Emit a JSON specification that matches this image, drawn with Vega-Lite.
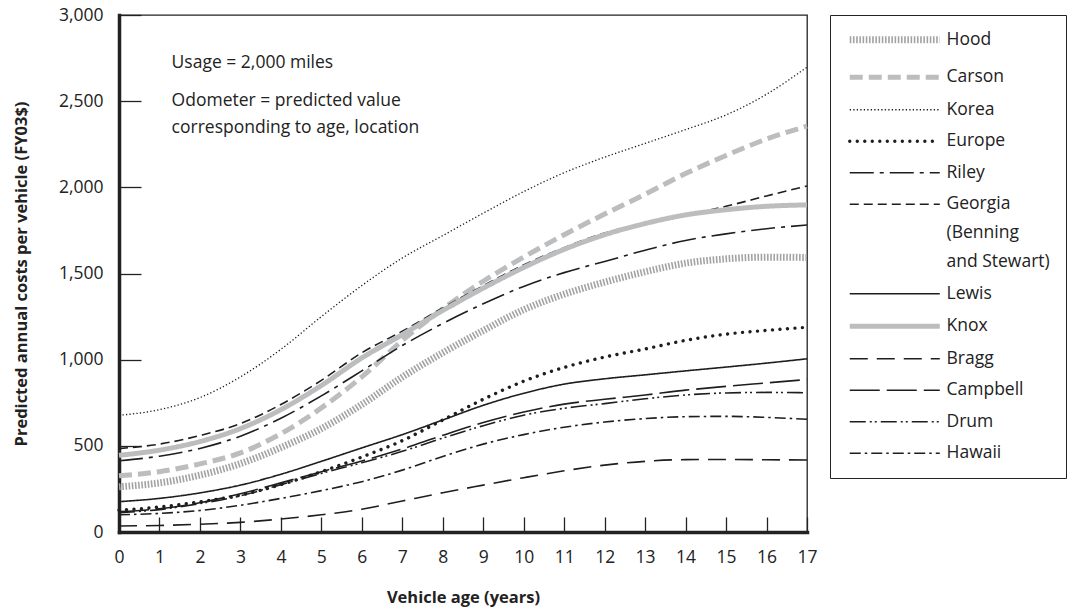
{
  "$schema": "https://vega.github.io/schema/vega-lite/v6.json",
  "width": 688,
  "height": 517,
  "autosize": "none",
  "padding": {"left": 119, "top": 15, "right": 282, "bottom": 81},
  "background": "white",
  "config": {
    "font": "Open Sans",
    "view": {"stroke": "#222", "strokeWidth": 1.3}
  },
  "data": {"values": [
    {"site":"Hood","age":0,"cost":262},{"site":"Hood","age":1,"cost":285},{"site":"Hood","age":2,"cost":330},{"site":"Hood","age":3,"cost":397},{"site":"Hood","age":4,"cost":490},{"site":"Hood","age":5,"cost":600},{"site":"Hood","age":6,"cost":740},{"site":"Hood","age":7,"cost":899},{"site":"Hood","age":8,"cost":1040},{"site":"Hood","age":9,"cost":1169},{"site":"Hood","age":10,"cost":1290},{"site":"Hood","age":11,"cost":1380},{"site":"Hood","age":12,"cost":1450},{"site":"Hood","age":13,"cost":1510},{"site":"Hood","age":14,"cost":1560},{"site":"Hood","age":15,"cost":1585},{"site":"Hood","age":16,"cost":1595},{"site":"Hood","age":17,"cost":1593},
    {"site":"Carson","age":0,"cost":326},{"site":"Carson","age":1,"cost":350},{"site":"Carson","age":2,"cost":395},{"site":"Carson","age":3,"cost":459},{"site":"Carson","age":4,"cost":570},{"site":"Carson","age":5,"cost":720},{"site":"Carson","age":6,"cost":900},{"site":"Carson","age":7,"cost":1111},{"site":"Carson","age":8,"cost":1295},{"site":"Carson","age":9,"cost":1455},{"site":"Carson","age":10,"cost":1595},{"site":"Carson","age":11,"cost":1725},{"site":"Carson","age":12,"cost":1845},{"site":"Carson","age":13,"cost":1960},{"site":"Carson","age":14,"cost":2080},{"site":"Carson","age":15,"cost":2185},{"site":"Carson","age":16,"cost":2280},{"site":"Carson","age":17,"cost":2355},
    {"site":"Korea","age":0,"cost":677},{"site":"Korea","age":1,"cost":710},{"site":"Korea","age":2,"cost":780},{"site":"Korea","age":3,"cost":900},{"site":"Korea","age":4,"cost":1060},{"site":"Korea","age":5,"cost":1250},{"site":"Korea","age":6,"cost":1430},{"site":"Korea","age":7,"cost":1590},{"site":"Korea","age":8,"cost":1720},{"site":"Korea","age":9,"cost":1850},{"site":"Korea","age":10,"cost":1975},{"site":"Korea","age":11,"cost":2085},{"site":"Korea","age":12,"cost":2175},{"site":"Korea","age":13,"cost":2255},{"site":"Korea","age":14,"cost":2335},{"site":"Korea","age":15,"cost":2420},{"site":"Korea","age":16,"cost":2540},{"site":"Korea","age":17,"cost":2697},
    {"site":"Europe","age":0,"cost":127},{"site":"Europe","age":1,"cost":145},{"site":"Europe","age":2,"cost":175},{"site":"Europe","age":3,"cost":214},{"site":"Europe","age":4,"cost":275},{"site":"Europe","age":5,"cost":350},{"site":"Europe","age":6,"cost":435},{"site":"Europe","age":7,"cost":530},{"site":"Europe","age":8,"cost":650},{"site":"Europe","age":9,"cost":770},{"site":"Europe","age":10,"cost":875},{"site":"Europe","age":11,"cost":955},{"site":"Europe","age":12,"cost":1015},{"site":"Europe","age":13,"cost":1062},{"site":"Europe","age":14,"cost":1112},{"site":"Europe","age":15,"cost":1148},{"site":"Europe","age":16,"cost":1170},{"site":"Europe","age":17,"cost":1188},
    {"site":"Riley","age":0,"cost":413},{"site":"Riley","age":1,"cost":440},{"site":"Riley","age":2,"cost":485},{"site":"Riley","age":3,"cost":556},{"site":"Riley","age":4,"cost":660},{"site":"Riley","age":5,"cost":790},{"site":"Riley","age":6,"cost":935},{"site":"Riley","age":7,"cost":1082},{"site":"Riley","age":8,"cost":1210},{"site":"Riley","age":9,"cost":1324},{"site":"Riley","age":10,"cost":1425},{"site":"Riley","age":11,"cost":1505},{"site":"Riley","age":12,"cost":1570},{"site":"Riley","age":13,"cost":1635},{"site":"Riley","age":14,"cost":1692},{"site":"Riley","age":15,"cost":1730},{"site":"Riley","age":16,"cost":1760},{"site":"Riley","age":17,"cost":1781},
    {"site":"Georgia","age":0,"cost":484},{"site":"Georgia","age":1,"cost":510},{"site":"Georgia","age":2,"cost":560},{"site":"Georgia","age":3,"cost":629},{"site":"Georgia","age":4,"cost":740},{"site":"Georgia","age":5,"cost":880},{"site":"Georgia","age":6,"cost":1040},{"site":"Georgia","age":7,"cost":1165},{"site":"Georgia","age":8,"cost":1300},{"site":"Georgia","age":9,"cost":1429},{"site":"Georgia","age":10,"cost":1550},{"site":"Georgia","age":11,"cost":1650},{"site":"Georgia","age":12,"cost":1735},{"site":"Georgia","age":13,"cost":1790},{"site":"Georgia","age":14,"cost":1840},{"site":"Georgia","age":15,"cost":1890},{"site":"Georgia","age":16,"cost":1950},{"site":"Georgia","age":17,"cost":2008},
    {"site":"Lewis","age":0,"cost":176},{"site":"Lewis","age":1,"cost":195},{"site":"Lewis","age":2,"cost":227},{"site":"Lewis","age":3,"cost":272},{"site":"Lewis","age":4,"cost":335},{"site":"Lewis","age":5,"cost":410},{"site":"Lewis","age":6,"cost":488},{"site":"Lewis","age":7,"cost":565},{"site":"Lewis","age":8,"cost":650},{"site":"Lewis","age":9,"cost":735},{"site":"Lewis","age":10,"cost":805},{"site":"Lewis","age":11,"cost":858},{"site":"Lewis","age":12,"cost":889},{"site":"Lewis","age":13,"cost":912},{"site":"Lewis","age":14,"cost":935},{"site":"Lewis","age":15,"cost":957},{"site":"Lewis","age":16,"cost":980},{"site":"Lewis","age":17,"cost":1005},
    {"site":"Knox","age":0,"cost":445},{"site":"Knox","age":1,"cost":475},{"site":"Knox","age":2,"cost":525},{"site":"Knox","age":3,"cost":600},{"site":"Knox","age":4,"cost":710},{"site":"Knox","age":5,"cost":850},{"site":"Knox","age":6,"cost":1010},{"site":"Knox","age":7,"cost":1145},{"site":"Knox","age":8,"cost":1285},{"site":"Knox","age":9,"cost":1415},{"site":"Knox","age":10,"cost":1535},{"site":"Knox","age":11,"cost":1640},{"site":"Knox","age":12,"cost":1725},{"site":"Knox","age":13,"cost":1790},{"site":"Knox","age":14,"cost":1840},{"site":"Knox","age":15,"cost":1870},{"site":"Knox","age":16,"cost":1890},{"site":"Knox","age":17,"cost":1898},
    {"site":"Bragg","age":0,"cost":35},{"site":"Bragg","age":1,"cost":38},{"site":"Bragg","age":2,"cost":45},{"site":"Bragg","age":3,"cost":56},{"site":"Bragg","age":4,"cost":75},{"site":"Bragg","age":5,"cost":100},{"site":"Bragg","age":6,"cost":132},{"site":"Bragg","age":7,"cost":180},{"site":"Bragg","age":8,"cost":228},{"site":"Bragg","age":9,"cost":272},{"site":"Bragg","age":10,"cost":315},{"site":"Bragg","age":11,"cost":355},{"site":"Bragg","age":12,"cost":388},{"site":"Bragg","age":13,"cost":410},{"site":"Bragg","age":14,"cost":420},{"site":"Bragg","age":15,"cost":421},{"site":"Bragg","age":16,"cost":419},{"site":"Bragg","age":17,"cost":418},
    {"site":"Campbell","age":0,"cost":118},{"site":"Campbell","age":1,"cost":135},{"site":"Campbell","age":2,"cost":170},{"site":"Campbell","age":3,"cost":222},{"site":"Campbell","age":4,"cost":285},{"site":"Campbell","age":5,"cost":350},{"site":"Campbell","age":6,"cost":412},{"site":"Campbell","age":7,"cost":482},{"site":"Campbell","age":8,"cost":561},{"site":"Campbell","age":9,"cost":635},{"site":"Campbell","age":10,"cost":696},{"site":"Campbell","age":11,"cost":742},{"site":"Campbell","age":12,"cost":770},{"site":"Campbell","age":13,"cost":795},{"site":"Campbell","age":14,"cost":823},{"site":"Campbell","age":15,"cost":845},{"site":"Campbell","age":16,"cost":865},{"site":"Campbell","age":17,"cost":885},
    {"site":"Drum","age":0,"cost":112},{"site":"Drum","age":1,"cost":130},{"site":"Drum","age":2,"cost":165},{"site":"Drum","age":3,"cost":210},{"site":"Drum","age":4,"cost":275},{"site":"Drum","age":5,"cost":340},{"site":"Drum","age":6,"cost":402},{"site":"Drum","age":7,"cost":468},{"site":"Drum","age":8,"cost":545},{"site":"Drum","age":9,"cost":617},{"site":"Drum","age":10,"cost":678},{"site":"Drum","age":11,"cost":718},{"site":"Drum","age":12,"cost":745},{"site":"Drum","age":13,"cost":773},{"site":"Drum","age":14,"cost":795},{"site":"Drum","age":15,"cost":807},{"site":"Drum","age":16,"cost":810},{"site":"Drum","age":17,"cost":808},
    {"site":"Hawaii","age":0,"cost":100},{"site":"Hawaii","age":1,"cost":108},{"site":"Hawaii","age":2,"cost":125},{"site":"Hawaii","age":3,"cost":155},{"site":"Hawaii","age":4,"cost":195},{"site":"Hawaii","age":5,"cost":240},{"site":"Hawaii","age":6,"cost":292},{"site":"Hawaii","age":7,"cost":359},{"site":"Hawaii","age":8,"cost":438},{"site":"Hawaii","age":9,"cost":510},{"site":"Hawaii","age":10,"cost":565},{"site":"Hawaii","age":11,"cost":608},{"site":"Hawaii","age":12,"cost":638},{"site":"Hawaii","age":13,"cost":658},{"site":"Hawaii","age":14,"cost":669},{"site":"Hawaii","age":15,"cost":671},{"site":"Hawaii","age":16,"cost":665},{"site":"Hawaii","age":17,"cost":654}
  ]},
  "encoding": {
    "x": {
      "field": "age", "type": "quantitative",
      "scale": {"domain": [0, 17], "nice": false, "zero": false},
      "axis": {
        "title": "Vehicle age (years)",
        "values": [0,1,2,3,4,5,6,7,8,9,10,11,12,13,14,15,16,17],
        "grid": false, "labelFlush": false,
        "domainColor": "#222", "domainWidth": 3.5, "domainCap": "square",
        "tickColor": "#222", "tickWidth": 1.3, "tickSize": -15,
        "labelFontSize": 17.5, "labelColor": "#222", "labelPadding": 31,
        "titleFontSize": 16.5, "titleFontWeight": "bold", "titleColor": "#222", "titlePadding": 24
      }
    },
    "y": {
      "field": "cost", "type": "quantitative",
      "scale": {"domain": [0, 3000], "nice": false},
      "axis": {
        "title": "Predicted annual costs per vehicle (FY03$)",
        "values": [0,500,1000,1500,2000,2500,3000], "format": ",d",
        "grid": false, "labelFlush": false,
        "domainColor": "#222", "domainWidth": 3.5, "domainCap": "square",
        "tickColor": "#222", "tickWidth": 1.3, "tickSize": -22,
        "labelFontSize": 17.5, "labelColor": "#222", "labelPadding": 38,
        "titleFontSize": 16.5, "titleFontWeight": "bold", "titleColor": "#222", "titlePadding": 29
      }
    },
    "color": {
      "field": "site", "type": "nominal",
      "scale": {
        "domain": ["Hood","Carson","Korea","Europe","Riley","Georgia","Lewis","Knox","Bragg","Campbell","Drum","Hawaii"],
        "range": ["#a3a3a5","#bcbdbf","#1e1e1e","#1e1e1e","#1e1e1e","#1e1e1e","#1e1e1e","#bcbdbf","#1e1e1e","#1e1e1e","#1e1e1e","#1e1e1e"]
      },
      "legend": {
        "title": null,
        "orient": "none", "legendX": 711, "legendY": 0,
        "direction": "vertical",
        "symbolType": "M-1,0H17", "symbolSize": 100,
        "labelFontSize": 17.5, "labelColor": "#222", "labelOffset": 83, "labelLimit": 200,
        "labelExpr": "datum.label == 'Georgia' ? ['Georgia', '(Benning', 'and Stewart)'] : datum.label",
        "rowPadding": 12.5,
        "padding": 16,
        "strokeColor": "#222", "fillColor": "white",
        "encode": {
          "symbols": {"update": {"strokeCap": {"signal": "datum.value === 'Europe' ? 'round' : 'butt'"}}},
          "labels": {"update": {"lineHeight": {"signal": "datum.value === 'Georgia' ? 29 : 17.5"}}}
        }
      }
    },
    "strokeDash": {
      "field": "site", "type": "nominal",
      "scale": {
        "type": "ordinal",
        "domain": ["Hood","Carson","Korea","Europe","Riley","Georgia","Lewis","Knox","Bragg","Campbell","Drum","Hawaii"],
        "range": [[1.6,1.6],[13,6],[1.3,2.2],[0.01,7.5],[24,6,4,6],[9,5],[1,0],[1,0],[18,9],[30,7],[16,4,2,3,2,4],[11,4,2.5,4]]
      }
    },
    "strokeWidth": {
      "field": "site", "type": "nominal",
      "scale": {
        "type": "ordinal",
        "domain": ["Hood","Carson","Korea","Europe","Riley","Georgia","Lewis","Knox","Bragg","Campbell","Drum","Hawaii"],
        "range": [7,5,1.3,3.4,1.6,1.6,1.6,5,1.6,1.6,1.6,1.6]
      }
    }
  },
  "layer": [
    {
      "transform": [{"filter": "datum.site !== 'Europe'"}],
      "mark": {"type": "line", "interpolate": "monotone", "strokeCap": "butt"}
    },
    {
      "transform": [{"filter": "datum.site === 'Europe'"}],
      "mark": {"type": "line", "interpolate": "monotone", "strokeCap": "round"}
    },
    {
      "data": {"values": [
        {"note": "Usage = 2,000 miles", "age": 1.3, "cost": 2720},
        {"note": "Odometer = predicted value", "age": 1.3, "cost": 2500},
        {"note": "corresponding to age, location", "age": 1.3, "cost": 2345}
      ]},
      "mark": {"type": "text", "align": "left", "baseline": "middle", "fontSize": 17.5, "color": "#222"},
      "encoding": {
        "x": {"field": "age", "type": "quantitative"},
        "y": {"field": "cost", "type": "quantitative"},
        "text": {"field": "note"},
        "color": {"value": "#222"},
        "strokeDash": {"value": [1, 0]},
        "strokeWidth": {"value": 0}
      }
    }
  ]
}
